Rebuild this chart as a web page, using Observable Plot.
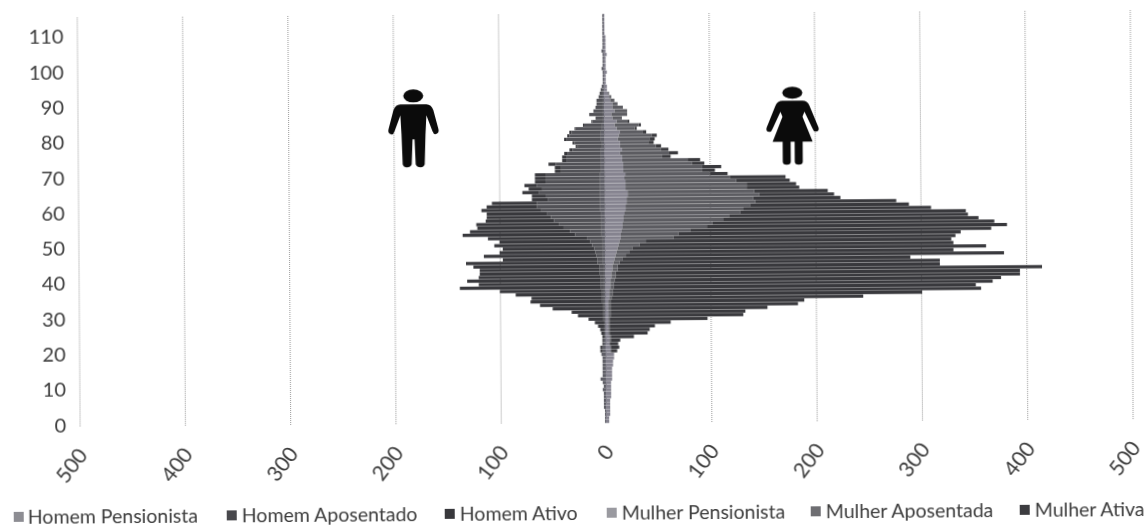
<!DOCTYPE html>
<html><head><meta charset="utf-8">
<script src="https://cdn.jsdelivr.net/npm/d3@7"></script>
<script src="https://cdn.jsdelivr.net/npm/@observablehq/plot@0.6"></script>
<style>
html,body{margin:0;padding:0;background:#fff;overflow:hidden}
#page{position:relative;width:1147px;height:527px;transform:rotate(-0.4deg);transform-origin:573px 263px;font-family:Lato,sans-serif;color:#3c3c3c;filter:blur(0.45px)}
#page svg{display:block}
.lg{position:absolute;top:501px;font-size:19.5px;line-height:24px;white-space:nowrap}
.sw{position:absolute;top:508px;width:10px;height:10px}
</style></head><body><div id="page"></div>
<script>
const ageTicks=[0,10,20,30,40,50,60,70,80,90,100,110];
const xTicks=[-500,-400,-300,-200,-100,0,100,200,300,400,500];
const seriesNames=["Homem Pensionista","Homem Aposentado","Homem Ativo","Mulher Pensionista","Mulher Aposentada","Mulher Ativa"];
const seriesColors=["#5e5e66","#515156","#38383c","#85838f","#5c5c61","#39393d"];
// values per age, age 0 first
const homemPensionista=[1,1,1,1,2,2,2,2,2,3,2,3,5,3,3,3,3,3,3,4,3,3,2,2,1,1,1,1,1,1,1,1,1,1,1,1,1,1,1,1,1,1,1,1,1,2,2,2,2,2,2,2,2,3,3,3,3,3,3,3,4,4,4,4,4,4,4,4,4,4,4,3,3,3,3,3,3,3,2,2,3,3,3,2,2,1,1,1,1,1,1,1,1,1,1,2,1,1,1,1,2,1,1,1,1,2,1,1,1,1,1,1,1,1,1,1];
const homemAposentado=[0,0,0,0,0,0,0,0,0,0,0,0,0,0,0,0,0,0,0,0,0,0,0,0,0,0,0,0,0,1,1,1,1,1,2,2,2,2,3,3,3,3,4,4,4,5,5,6,7,8,10,12,15,25,30,36,40,45,48,52,56,60,60,50,52,58,55,60,52,52,52,38,38,43,33,33,32,27,23,26,33,30,28,25,17,10,7,13,9,7,6,6,4,3,2,0,0,0,0,0,0,0,0,0,0,0,0,0,0,0,0,0,0,0,0,0];
const homemAtivo=[0,0,0,0,0,0,0,0,0,0,0,0,0,0,0,0,0,0,0,0,2,2,1,1,2,3,4,6,9,14,24,30,48,60,68,67,82,97,134,116,127,116,114,114,120,125,90,107,91,87,93,86,94,107,95,82,79,65,61,57,57,48,43,15,13,16,13,12,10,10,10,6,6,7,4,4,3,3,2,2,2,2,2,1,1,1,0,0,0,0,0,0,0,0,0,0,0,0,0,0,0,0,0,0,0,0,0,0,0,0,0,0,0,0,0,0];
const mulherPensionista=[3,3,4,4,4,4,4,5,5,5,5,5,6,6,6,6,7,7,8,8,5,5,4,4,4,3,3,3,3,3,3,3,3,3,3,4,4,4,5,5,5,6,6,7,7,8,9,10,11,12,13,14,15,15,16,17,17,18,18,19,20,20,21,21,22,22,20,20,20,19,20,18,18,18,17,17,15,17,15,15,13,14,15,12,10,12,8,7,10,8,8,6,5,4,3,3,2,2,2,3,2,2,2,2,3,2,2,2,2,2,1,1,1,1,1,1];
const mulherAposentada=[0,0,0,0,0,0,0,0,0,0,0,0,0,0,0,0,0,0,0,0,0,0,0,1,1,1,1,1,1,1,2,2,2,2,2,2,3,3,3,3,4,4,4,5,5,6,8,10,12,14,20,25,50,55,65,80,85,95,100,110,112,118,122,120,125,120,115,115,105,100,80,75,75,65,62,38,46,37,34,27,30,31,22,17,23,10,9,15,12,10,5,4,2,1,0,0,0,0,0,0,0,0,0,0,0,0,0,0,0,0,0,0,0,0,0,0];
const mulherAtiva=[0,0,0,0,0,0,0,0,0,0,0,0,0,0,0,0,0,0,0,0,6,8,8,9,22,36,38,43,58,93,126,128,149,178,184,239,294,350,344,360,367,384,384,403,306,304,273,359,308,336,298,290,268,268,286,285,268,242,227,214,178,151,134,83,71,70,50,47,51,53,17,12,18,12,12,8,9,7,5,5,5,5,3,2,2,2,0,0,0,0,0,0,0,0,0,0,0,0,0,0,0,0,0,0,0,0,0,0,0,0,0,0,0,0,0,0];

const ages=d3.range(116);
const signs=[-1,-1,-1,1,1,1];
const rows=[homemPensionista,homemAposentado,homemAtivo,mulherPensionista,mulherAposentada,mulherAtiva]
  .flatMap((arr,s)=>arr.map((v,i)=>({age:ages[i],value:signs[s]*v,series:seriesNames[s]})));

function icon(xVal,ageTop,d,hy){
  return (index,{x,y})=>{
    const g=d3.create("svg:g").attr("transform",`translate(${x(xVal)},${y(ageTop)})`).attr("fill","#0b0b0b");
    g.append("ellipse").attr("cx",0).attr("cy",hy).attr("rx",10).attr("ry",hy);
    g.append("path").attr("d",d);
    return g.node();
  };
}
const manPath="M-13,15L13,15Q18,15 20,21L25,40Q26,44 22,45Q20,45 19,42L13,26L12,45L11,75Q10,78 7,78Q3,78 2,75L1,50L-1,50L-2,75Q-3,78 -7,78Q-10,78 -11,75L-12,45L-13,26L-19,42Q-20,45 -22,45Q-26,44 -25,40L-20,21Q-18,15 -13,15Z";
const womanPath="M-10,14L10,14Q15,14 17,19L26,41Q27,45 23,45Q21,45 20,42L12,25L10,30L20,55L10,55L10,75Q10,78 6,78Q2,78 2,75L2,55L-2,55L-2,75Q-2,78 -6,78Q-10,78 -10,75L-10,55L-20,55L-10,30L-12,25L-20,42Q-21,45 -23,45Q-27,45 -26,41L-17,19Q-15,14 -10,14Z";

const chart=Plot.plot({
  width:1147,height:490,
  marginLeft:78.5,marginRight:15.5,marginTop:14,marginBottom:66.5,
  style:{fontFamily:"Lato, sans-serif",background:"#fff",color:"#3c3c3c",overflow:"visible"},
  x:{domain:[-500,500]},
  y:{domain:ages.slice().reverse(),padding:0.08,label:null},
  color:{domain:seriesNames,range:seriesColors},
  marks:[
    Plot.ruleX(xTicks,{stroke:"#999",strokeWidth:1,strokeDasharray:"1,1"}),
    Plot.barX(rows,{x:"value",y:"age",fill:"series"}),
    icon(-181,94,manPath,6.5),
    icon(179,94,womanPath,6),
    Plot.axisY({ticks:ageTicks,tickSize:0,tickPadding:14,fontSize:20,label:null}),
    Plot.axisX({ticks:xTicks,tickFormat:Math.abs,tickRotate:-52,tickSize:0,tickPadding:24,fontSize:21,label:null,dx:3})
  ]
});
const page=document.getElementById("page");
page.appendChild(chart);
const textX=[26,240,458,620,824,1033],swX=[12,225,443,605,809,1018];
const swColors=["#8d8d93","#48484c","#38383c","#9a9aa0","#6e6e72","#3c3c40"];
seriesNames.forEach((n,i)=>{
  const s=document.createElement("div");s.className="sw";s.style.left=swX[i]+"px";s.style.background=swColors[i];page.appendChild(s);
  const t=document.createElement("div");t.className="lg";t.style.left=textX[i]+"px";t.textContent=n;page.appendChild(t);
});
</script></body></html>
